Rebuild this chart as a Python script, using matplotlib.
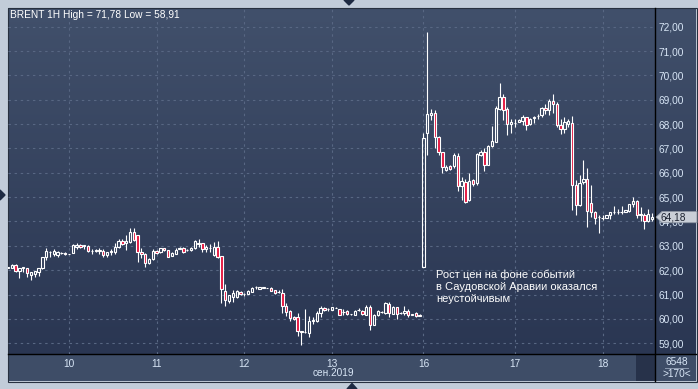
import numpy as np
import matplotlib
matplotlib.use('Agg')
import matplotlib.pyplot as plt
from matplotlib.patches import Rectangle, Polygon
from matplotlib.collections import LineCollection
from matplotlib.colors import LinearSegmentedColormap

# ---------------- data ----------------
title = 'BRENT 1H High = 71,78 Low = 58,91'
month_label = 'сен.2019'
annotation = 'Рост цен на фоне событий\nв Саудовской Аравии оказался\nнеустойчивым'
day_labels = ['10', '11', '12', '13', '16', '17', '18']
day_start_bar = [16, 39, 62, 85, 109, 133, 156]
price_ticks = [59, 60, 61, 62, 63, 64, 65, 66, 67, 68, 69, 70, 71, 72]
last_price = 64.18
footer_top = '6548'
footer_bottom = '>170<'

opens = [62.11, 62.10, 62.23, 61.95, 62.10, 62.07, 61.79, 61.85, 61.93, 62.07,
         62.53, 62.74, 62.67, 62.64, 62.72, 62.69, 62.67, 62.71, 62.95, 63.03,
         63.01, 63.01, 62.77, 62.78, 62.77, 62.77, 62.63, 62.74, 62.75, 62.95,
         63.19, 63.10, 63.14, 63.55, 63.44, 62.73, 62.65, 62.28, 62.45, 62.79,
         62.73, 62.90, 62.83, 62.60, 62.68, 62.89, 62.93, 62.83, 62.84, 62.90,
         63.08, 63.10, 62.86, 62.90, 62.62, 62.94, 62.57, 61.16, 60.75, 60.91,
         60.89, 61.12, 61.04, 61.04, 61.12, 61.29, 61.23, 61.28, 61.26, 61.28,
         61.17, 61.10, 61.07, 60.55, 60.34, 60.07, 60.07, 59.50, 59.47, 59.41,
         59.93, 59.93, 60.23, 60.45, 60.40, 60.37, 60.45, 60.40, 60.27, 60.32,
         60.21, 60.16, 60.36, 60.33, 60.16, 60.47, 59.75, 60.18, 60.27, 60.23,
         60.63, 60.21, 60.48, 60.23, 60.23, 60.32, 60.19, 60.26, 60.18, 62.14,
         67.65, 68.37, 68.44, 67.45, 66.84, 66.11, 66.28, 66.29, 66.69, 65.46,
         65.63, 64.88, 65.70, 65.57, 66.73, 66.84, 66.32, 67.10, 67.28, 68.61,
         69.13, 68.61, 67.99, 68.05, 68.10, 68.14, 68.28, 68.00, 68.27, 68.33,
         68.36, 68.66, 68.56, 68.93, 68.84, 67.95, 67.81, 68.01, 68.06, 65.48,
         64.66, 65.62, 65.76, 64.78, 64.41, 64.19, 64.15, 64.15, 64.25, 64.38,
         64.39, 64.39, 64.39, 64.43, 64.70, 64.84, 64.29, 64.25, 64.04, 64.10]
highs = [62.15, 62.25, 62.24, 62.10, 62.14, 62.08, 61.93, 61.96, 62.10, 62.55,
         62.93, 62.78, 62.89, 62.79, 62.76, 62.73, 62.68, 63.08, 63.10, 63.06,
         63.05, 63.02, 62.86, 62.87, 62.92, 62.89, 62.75, 62.89, 63.10, 63.30,
         63.30, 63.44, 63.74, 63.75, 63.46, 62.90, 62.70, 62.49, 62.87, 62.82,
         62.92, 62.92, 62.85, 62.73, 62.90, 62.95, 62.95, 62.88, 62.97, 63.25,
         63.28, 63.12, 63.03, 63.09, 63.17, 63.20, 62.58, 61.42, 61.00, 61.19,
         61.18, 61.15, 61.08, 61.17, 61.32, 61.36, 61.32, 61.31, 61.27, 61.30,
         61.19, 61.20, 61.23, 60.66, 60.36, 60.10, 60.23, 59.50, 60.41, 60.10,
         60.07, 60.34, 60.51, 60.48, 60.45, 60.48, 60.47, 60.42, 60.41, 60.36,
         60.22, 60.36, 60.45, 60.36, 60.59, 60.59, 60.20, 60.38, 60.32, 60.68,
         60.69, 60.51, 60.50, 60.27, 60.55, 60.41, 60.20, 60.28, 60.19, 67.62,
         71.78, 68.61, 68.58, 67.50, 66.87, 66.32, 66.32, 66.80, 66.80, 65.84,
         65.73, 66.00, 65.75, 66.80, 66.92, 67.00, 67.14, 67.92, 68.74, 69.70,
         69.23, 68.69, 68.21, 68.19, 68.22, 68.36, 68.30, 68.25, 68.33, 68.41,
         68.72, 68.84, 69.04, 69.25, 68.90, 68.22, 68.29, 68.22, 68.33, 65.69,
         65.89, 66.51, 66.21, 65.48, 64.43, 64.25, 64.25, 64.27, 64.38, 64.62,
         64.52, 64.62, 64.48, 64.72, 65.00, 64.87, 64.59, 64.35, 64.52, 64.35]
lows = [62.09, 62.08, 61.94, 61.66, 61.93, 61.73, 61.60, 61.73, 61.75, 62.05,
        62.41, 62.55, 62.59, 62.53, 62.66, 62.64, 62.66, 62.70, 62.89, 62.93,
        62.89, 62.76, 62.67, 62.76, 62.68, 62.55, 62.55, 62.64, 62.68, 62.93,
        63.03, 62.84, 63.13, 63.21, 62.34, 62.51, 62.15, 62.24, 62.42, 62.67,
        62.71, 62.80, 62.54, 62.58, 62.66, 62.86, 62.70, 62.78, 62.80, 62.88,
        62.97, 62.76, 62.76, 62.76, 62.58, 62.49, 60.64, 60.54, 60.64, 60.71,
        60.85, 61.00, 60.95, 61.02, 61.09, 61.23, 61.22, 61.26, 61.25, 61.14,
        61.03, 61.05, 60.23, 60.11, 59.93, 59.95, 59.28, 58.91, 59.41, 59.25,
        59.80, 59.86, 60.07, 60.34, 60.34, 60.36, 60.44, 60.14, 60.14, 60.16,
        60.18, 60.14, 60.34, 60.16, 60.14, 59.56, 59.73, 60.10, 60.23, 60.21,
        60.07, 60.19, 59.99, 60.19, 60.14, 60.07, 60.17, 60.09, 60.10, 62.14,
        66.73, 68.17, 67.00, 66.73, 66.00, 66.09, 66.11, 66.18, 65.26, 64.88,
        64.77, 64.86, 65.45, 65.50, 66.70, 66.09, 66.30, 67.07, 67.26, 68.58,
        68.17, 67.55, 67.65, 67.89, 68.07, 67.96, 67.76, 67.98, 68.03, 68.22,
        68.30, 68.43, 68.38, 68.45, 67.88, 67.60, 67.63, 67.88, 64.48, 64.25,
        64.62, 65.55, 63.77, 64.18, 63.91, 63.52, 64.07, 64.13, 64.11, 64.29,
        64.29, 64.32, 64.37, 64.40, 64.59, 64.15, 64.04, 63.70, 63.98, 64.04]
closes = [62.13, 62.23, 61.95, 62.08, 62.12, 61.90, 61.92, 61.95, 62.08, 62.53,
          62.78, 62.76, 62.78, 62.73, 62.71, 62.68, 62.67, 63.05, 63.04, 62.95,
          63.02, 62.77, 62.78, 62.85, 62.81, 62.64, 62.74, 62.79, 62.95, 63.21,
          63.08, 63.19, 63.55, 63.25, 62.75, 62.65, 62.28, 62.47, 62.80, 62.69,
          62.90, 62.82, 62.56, 62.71, 62.84, 62.91, 62.76, 62.85, 62.93, 63.20,
          63.10, 62.86, 62.94, 62.91, 62.94, 62.56, 61.23, 60.78, 60.98, 61.05,
          61.15, 61.03, 61.03, 61.15, 61.26, 61.30, 61.30, 61.29, 61.26, 61.16,
          61.08, 61.12, 60.55, 60.30, 60.03, 59.99, 59.49, 59.48, 59.45, 59.93,
          59.97, 60.23, 60.45, 60.37, 60.41, 60.47, 60.45, 60.16, 60.28, 60.19,
          60.20, 60.34, 60.37, 60.19, 60.47, 59.75, 60.18, 60.32, 60.28, 60.66,
          60.25, 60.48, 60.19, 60.24, 60.34, 60.16, 60.18, 60.11, 60.12, 67.41,
          68.40, 68.44, 67.48, 66.87, 66.22, 66.25, 66.14, 66.73, 65.47, 65.66,
          64.81, 65.66, 65.52, 66.77, 66.87, 66.32, 67.11, 67.32, 68.67, 69.10,
          68.58, 68.00, 68.07, 68.06, 68.18, 68.28, 67.98, 68.22, 68.28, 68.35,
          68.67, 68.56, 68.95, 68.84, 67.95, 67.81, 68.08, 68.11, 65.48, 64.66,
          65.59, 65.76, 64.43, 64.39, 64.15, 64.18, 64.16, 64.25, 64.37, 64.39,
          64.40, 64.39, 64.46, 64.70, 64.84, 64.25, 64.25, 64.04, 64.29, 64.18]

# ---------------- style ----------------
W, H, DPI = 698, 389, 100
FONT = ['Liberation Sans', 'DejaVu Sans']
plt.rcParams['font.family'] = FONT
TXT = '#d8e6f6'
RED = '#e5173f'
GRID = '#586783'

fig = plt.figure(figsize=(W / DPI, H / DPI), dpi=DPI)
fig.patch.set_facecolor('#c2ccd9')

# background layer in pixel coordinates
bg = fig.add_axes([0, 0, 1, 1], zorder=0)
bg.set_xlim(0, W)
bg.set_ylim(H, 0)
bg.axis('off')
cmap = LinearSegmentedColormap.from_list('bgc', ['#41506b', '#2a3652'])
grad = np.linspace(0, 1, 256).reshape(-1, 1)
bg.imshow(grad, cmap=cmap, extent=(8, 696, 354, 8), aspect='auto', interpolation='bicubic')
bg.add_patch(Rectangle((8, 354), 628, 27, facecolor='#3e4d67', edgecolor='none'))
bg.add_patch(Rectangle((636, 354), 19, 27, facecolor='#27324a', edgecolor='none'))
bg.add_patch(Rectangle((655, 354), 41, 27, facecolor='#3e4d67', edgecolor='none'))
bg.add_patch(Rectangle((7.5, 7.5), 689, 374, facecolor='none', edgecolor='#27303f', lw=0.8))
bg.plot([655, 655], [8, 381], color='black', lw=1.0)
bg.plot([8, 696], [354, 354], color='black', lw=1.0)
# small navigation triangles
tri_c = '#1e2a42'
bg.add_patch(Polygon([(344, 0), (354, 0), (349, 5)], closed=True, color=tri_c))
bg.add_patch(Polygon([(347, 389), (357, 389), (352, 383.5)], closed=True, color=tri_c))
bg.add_patch(Polygon([(0, 190), (0, 200), (5, 195)], closed=True, color=tri_c))

# main price axes
L, R, T, B = 8, 655, 8, 354
ax = fig.add_axes([L / W, 1 - B / H, (R - L) / W, (B - T) / H], zorder=1)
ax.set_facecolor('none')
for s in ax.spines.values():
    s.set_visible(False)

px_per_unit = 24.35
ymax = 72 + (26.7 - T) / px_per_unit
ymin = 72 - (B - 26.7) / px_per_unit
ax.set_ylim(ymin, ymax)
bar_px = 3.811
x0px = 8.03
ax.set_xlim((L - x0px) / bar_px, (R - x0px) / bar_px)

# grid and ticks
ax.set_yticks(price_ticks)
ax.set_yticklabels([f'{p:.2f}'.replace('.', ',') for p in price_ticks])
ax.set_xticks(day_start_bar)
ax.set_xticklabels(day_labels)
ax.grid(True, color=GRID, lw=0.8, linestyle=(0, (2.2, 3.3)))
ax.set_axisbelow(True)
ax.yaxis.tick_right()
ax.tick_params(axis='y', length=0, pad=2.4, labelsize=7.3, labelcolor=TXT)
ax.tick_params(axis='x', length=0, pad=3.6, labelsize=7.3, labelcolor=TXT)

# candles
bw = 0.62
idx = np.arange(len(opens))
o = np.array(opens); h = np.array(highs); l = np.array(lows); c = np.array(closes)
top = np.maximum(o, c); bot = np.minimum(o, c)
segs = []
for i in idx:
    if h[i] > top[i]:
        segs.append([(i, top[i]), (i, h[i])])
    if l[i] < bot[i]:
        segs.append([(i, l[i]), (i, bot[i])])
ax.add_collection(LineCollection(segs, colors='white', linewidths=0.8, zorder=3))
for i in idx:
    hgt = max(top[i] - bot[i], 0.004)
    fc = RED if c[i] < o[i] else 'none'
    ax.add_patch(Rectangle((i - bw / 2, bot[i]), bw, hgt, facecolor=fc,
                           edgecolor='white', lw=0.8, zorder=4))

# overlay layer (pixel coords)
ov = fig.add_axes([0, 0, 1, 1], zorder=5)
ov.set_xlim(0, W)
ov.set_ylim(H, 0)
ov.axis('off')
ov.set_facecolor('none')

fig.canvas.draw()
py = H - ax.transData.transform((0, last_price))[1]
hh = 5.6
ov.add_patch(Polygon([(656, py), (662, py - hh), (697, py - hh), (697, py + hh), (662, py + hh)],
                     closed=True, facecolor='#c9ced7', edgecolor='#8e96a4', lw=0.6))
ov.text(660.5, py + 0.3, f'{last_price:.2f}'.replace('.', ','), fontsize=7.3,
        color='#1c2230', va='center', ha='left')

ov.text(10, 10.3, title, fontsize=7.3, color='white', va='top', ha='left')
ov.text(333, 373.5, month_label, fontsize=7.3, color=TXT, va='center', ha='center')
ov.text(676.5, 362, footer_top, fontsize=7.3, color=TXT, va='center', ha='center')
ov.plot([665, 688], [368.3, 368.3], color='#8c9ab0', lw=0.7)
ov.text(676.5, 373.8, footer_bottom, fontsize=7.3, color=TXT, va='center', ha='center')
ov.text(436.5, 269.5, annotation, fontsize=8.0, color='white',
        va='top', ha='left', linespacing=1.22)

fig.savefig('out.png', dpi=DPI, facecolor=fig.get_facecolor())
